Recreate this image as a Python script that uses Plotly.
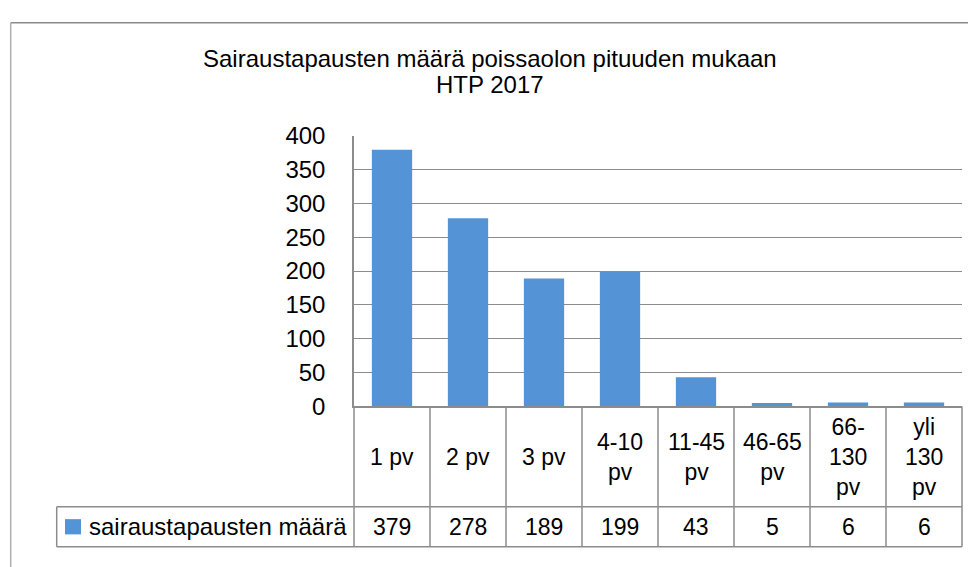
import plotly.graph_objects as go

# ---------------- data ----------------
categories = ["1 pv", "2 pv", "3 pv", "4-10 pv", "11-45 pv", "46-65 pv", "66-130 pv", "yli 130 pv"]
header_labels = ["1 pv", "2 pv", "3 pv", "4-10<br>pv", "11-45<br>pv", "46-65<br>pv",
                 "66-<br>130<br>pv", "yli<br>130<br>pv"]
values = [379, 278, 189, 199, 43, 5, 6, 6]
series_name = "sairaustapausten määrä"
title_line1 = "Sairaustapausten määrä poissaolon pituuden mukaan"
title_line2 = "HTP 2017"
y_ticks = [0, 50, 100, 150, 200, 250, 300, 350, 400]

# ---------------- layout helpers (window pixel -> paper) ----------------
W, H = 976, 567
OFF = 8  # the page body margin shifts the figure by 8 px


def px(x):
    return (x - OFF) / W


def py(y):
    return 1 - (y - OFF) / H


PLOT_L, PLOT_R, PLOT_T, PLOT_B = 354, 962, 127.3, 411.7
HEADER_B = 517
TABLE_B = 559
LEG_L = 56.7

FONT = "Liberation Sans, Arial, sans-serif"
BAR_COLOR = "#5593d7"
LINE_COLOR = "#8c8c8c"

fig = go.Figure()
fig.add_trace(go.Bar(
    x=categories, y=values, name=series_name,
    width=0.53,
    marker=dict(color=BAR_COLOR, line=dict(width=0)),
    showlegend=False,
))

shapes = []
annotations = []

# chart border (extends beyond the visible window)
shapes.append(dict(type="line", xref="paper", yref="paper",
                   x0=px(10.7), x1=1.02, y0=py(8.8), y1=py(8.8),
                   line=dict(color="#8a8a8a", width=1.5)))
shapes.append(dict(type="line", xref="paper", yref="paper",
                   x0=px(10.7), x1=px(10.7), y0=py(8.8), y1=-0.02,
                   line=dict(color="#b0b0b0", width=1.5)))

n = len(categories)
# data table vertical lines
for i in range(n + 1):
    shapes.append(dict(type="line", xref="x domain", yref="paper",
                       x0=i / n, x1=i / n, y0=py(PLOT_B), y1=py(TABLE_B),
                       line=dict(color=LINE_COLOR, width=1.5)))
# horizontal lines of the table (value row incl. legend cell)
for yy in (HEADER_B, TABLE_B):
    shapes.append(dict(type="line", xref="paper", yref="paper",
                       x0=px(LEG_L), x1=px(PLOT_R), y0=py(yy), y1=py(yy),
                       line=dict(color=LINE_COLOR, width=1.5)))
shapes.append(dict(type="line", xref="paper", yref="paper",
                   x0=px(LEG_L), x1=px(LEG_L), y0=py(HEADER_B), y1=py(TABLE_B),
                   line=dict(color=LINE_COLOR, width=1.5)))

# legend key
shapes.append(dict(type="rect", xref="paper", yref="paper",
                   x0=px(65), x1=px(81), y0=py(546), y1=py(530),
                   fillcolor=BAR_COLOR, line=dict(width=0)))
annotations.append(dict(text=series_name, xref="paper", yref="paper",
                        x=px(87), y=py(538), xanchor="left", yanchor="middle",
                        showarrow=False, font=dict(family=FONT, size=24, color="#000")))

# header row & value row texts
for cat, lab, val in zip(categories, header_labels, values):
    annotations.append(dict(text=lab, xref="x", yref="paper",
                            x=cat, y=py((PLOT_B + HEADER_B) / 2),
                            xanchor="center", yanchor="middle", showarrow=False,
                            font=dict(family=FONT, size=23, color="#000")))
    annotations.append(dict(text=str(val), xref="x", yref="paper",
                            x=cat, y=py((HEADER_B + TABLE_B) / 2),
                            xanchor="center", yanchor="middle", showarrow=False,
                            font=dict(family=FONT, size=23, color="#000")))

# title
annotations.append(dict(text=title_line1, xref="paper", yref="paper",
                        x=px(490), y=py(46), xanchor="center", yanchor="middle",
                        showarrow=False, font=dict(family=FONT, size=24, color="#000")))
annotations.append(dict(text=title_line2, xref="paper", yref="paper",
                        x=px(490), y=py(74), xanchor="center", yanchor="middle",
                        showarrow=False, font=dict(family=FONT, size=24, color="#000")))

fig.update_layout(
    width=W, height=H, autosize=False,
    margin=dict(l=0, r=0, t=0, b=0),
    paper_bgcolor="white", plot_bgcolor="white",
    font=dict(family=FONT, size=24, color="#000"),
    xaxis=dict(domain=[px(PLOT_L), px(PLOT_R)], range=[-0.5, n - 0.5],
               showticklabels=False, showgrid=False, zeroline=False,
               showline=True, linecolor=LINE_COLOR, linewidth=1.5, ticks=""),
    yaxis=dict(domain=[py(PLOT_B), py(PLOT_T)], range=[0, 400],
               tickvals=y_ticks, ticktext=[str(v) for v in y_ticks],
               showgrid=True, gridcolor=LINE_COLOR, gridwidth=1.3,
               zeroline=False, showline=True, linecolor=LINE_COLOR, linewidth=1.5,
               ticks="", ticklabelstandoff=22,
               tickfont=dict(family=FONT, size=24, color="#000")),
    shapes=shapes,
    annotations=annotations,
)

fig.write_html("out.html")
